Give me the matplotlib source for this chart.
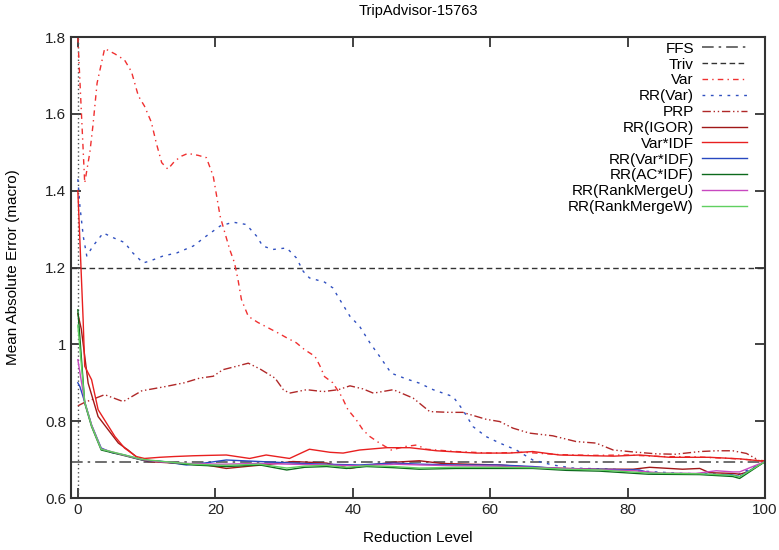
import matplotlib
matplotlib.use('Agg')
import matplotlib.pyplot as plt

plt.rcParams['font.family'] = ['Liberation Sans', 'DejaVu Sans']

ffs_level = 0.695
triv_level = 1.2

var_x = [0, 1.0, 1.75, 2.2, 2.8, 3.9, 5.4, 6.8, 7.8, 8.8, 9.7, 10.7, 11.4, 12.2, 13.1, 14.1, 15.1, 16.0,
         17.5, 18.7, 19.7, 20.2, 20.7, 21.4, 22.1, 22.8, 23.3, 23.8, 24.8, 26.2, 27.7, 29.1, 30.4, 31.8,
         33.0, 34.5, 35.2, 35.9, 37.1, 38.4, 39.3, 40.5, 41.5, 42.5, 43.9, 45.6, 47.6, 49.3, 50.7, 55, 60,
         65, 70, 75, 80, 85, 90, 95, 100]
var_y = [1.80, 1.42, 1.50, 1.57, 1.68, 1.77, 1.756, 1.74, 1.71, 1.647, 1.62, 1.578, 1.525, 1.473, 1.456,
         1.477, 1.49, 1.497, 1.492, 1.486, 1.438, 1.386, 1.334, 1.29, 1.247, 1.212, 1.169, 1.117, 1.073,
         1.057, 1.043, 1.03, 1.017, 1.004, 0.986, 0.969, 0.945, 0.916, 0.90, 0.864, 0.83, 0.804, 0.777,
         0.76, 0.743, 0.725, 0.734, 0.738, 0.727, 0.721, 0.717, 0.719, 0.713, 0.711, 0.712, 0.708, 0.707,
         0.703, 0.697]

rrvar_x = [0, 0.3, 0.8, 1.3, 2.2, 3.7, 5.1, 6.8, 8.0, 9.5, 10.5, 12.4, 14.4, 16.8, 18.7, 20.7, 22.6, 24.5,
           26.0, 26.9, 28.4, 30.4, 31.8, 32.8, 33.7, 35.9, 37.1, 38.1, 39.6, 41.0, 42.5, 43.9, 45.6, 47.8,
           49.7, 51.7, 54.6, 56.0, 57.5, 59.4, 61.4, 63.8, 66.2, 69.1, 72, 76, 80, 84, 88, 92, 96, 100]
rrvar_y = [1.43, 1.36, 1.28, 1.23, 1.256, 1.29, 1.278, 1.265, 1.238, 1.212, 1.217, 1.23, 1.238, 1.256,
           1.282, 1.308, 1.318, 1.312, 1.282, 1.256, 1.247, 1.251, 1.225, 1.19, 1.173, 1.162, 1.147, 1.117,
           1.073, 1.047, 1.004, 0.969, 0.925, 0.91, 0.899, 0.882, 0.864, 0.83, 0.786, 0.76, 0.743, 0.725,
           0.699, 0.686, 0.678, 0.676, 0.673, 0.668, 0.664, 0.663, 0.66, 0.695]

prp_x = [0, 1.0, 3.9, 6.6, 9.3, 12.7, 15.5, 17.7, 19.7, 21.1, 23.1, 24.8, 26.5, 28.7, 29.9, 30.8, 33.3,
         35.7, 37.9, 39.6, 41.5, 43.0, 45.9, 48.8, 51.2, 54.1, 56.0, 59.4, 61.4, 63.3, 65.7, 69.1, 72.5,
         75.4, 77.9, 80.8, 84.2, 87, 90.5, 93, 95.3, 97.3, 99.2, 100]
prp_y = [0.84, 0.849, 0.869, 0.851, 0.879, 0.89, 0.90, 0.912, 0.917, 0.934, 0.943, 0.951, 0.936, 0.912,
         0.882, 0.873, 0.882, 0.877, 0.882, 0.892, 0.884, 0.873, 0.882, 0.86, 0.825, 0.823, 0.823, 0.805,
         0.799, 0.782, 0.769, 0.762, 0.747, 0.743, 0.725, 0.72, 0.715, 0.714, 0.721, 0.723, 0.723, 0.716,
         0.697, 0.695]

igor_x = [0, 0.5, 1.5, 2.95, 5.9, 7.3, 8.8, 10.2, 13, 16.8, 19, 21.6, 25, 28, 31.3, 36.2, 39.6, 42, 45.9,
          49.7, 53, 57, 61.4, 66.2, 71.1, 75.9, 80.8, 83.2, 88, 90.5, 91.9, 95.3, 96.3, 97.5, 100]
igor_y = [1.08, 1.04, 0.899, 0.812, 0.743, 0.725, 0.703, 0.695, 0.692, 0.688, 0.685, 0.677, 0.683, 0.688,
          0.695, 0.691, 0.677, 0.685, 0.693, 0.697, 0.69, 0.688, 0.686, 0.68, 0.677, 0.675, 0.675, 0.68,
          0.675, 0.677, 0.666, 0.664, 0.662, 0.668, 0.695]

varidf_x = [0, 0.77, 1.0, 2.0, 2.95, 5.4, 6.8, 8.5, 9.7, 11.9, 14, 16.8, 19, 21.6, 25, 27.4, 30.8, 33.7,
            36.7, 38.6, 41, 44.9, 48.3, 52.2, 55, 58, 62.8, 66.2, 70.1, 75, 78, 81.7, 86.1, 91.9, 96.3,
            99.2, 100]
varidf_y = [1.40, 1.064, 0.943, 0.908, 0.83, 0.76, 0.73, 0.708, 0.703, 0.706, 0.708, 0.71, 0.711, 0.712,
            0.703, 0.712, 0.703, 0.727, 0.719, 0.717, 0.725, 0.731, 0.731, 0.723, 0.72, 0.717, 0.717, 0.721,
            0.712, 0.71, 0.709, 0.712, 0.706, 0.706, 0.702, 0.697, 0.695]

rrvaridf_x = [0, 0.3, 1, 2, 3.4, 5, 6.8, 8.5, 10, 12, 15.8, 18, 21.6, 24, 26.5, 31.3, 36, 41, 45.9, 50,
              55, 61.4, 66.2, 71.1, 75.9, 81.7, 83.7, 90.5, 95.3, 96.3, 100]
rrvaridf_y = [0.90, 0.89, 0.85, 0.79, 0.73, 0.718, 0.712, 0.703, 0.697, 0.696, 0.686, 0.69, 0.699, 0.697,
              0.695, 0.691, 0.688, 0.686, 0.691, 0.688, 0.686, 0.686, 0.682, 0.675, 0.675, 0.673, 0.663,
              0.662, 0.66, 0.656, 0.695]

acidf_x = [0, 1, 2, 3.4, 6.4, 9.3, 11.9, 16.8, 21.6, 26.5, 30.4, 33, 36.2, 39.1, 42, 45.9, 49.7, 55,
           61.4, 66.2, 71.1, 75.9, 83, 90.5, 95.3, 96.3, 100]
acidf_y = [1.09, 0.847, 0.786, 0.725, 0.712, 0.699, 0.695, 0.686, 0.682, 0.686, 0.673, 0.68, 0.682, 0.677,
           0.682, 0.679, 0.675, 0.677, 0.677, 0.677, 0.672, 0.67, 0.662, 0.661, 0.656, 0.651, 0.695]

rmu_x = [0, 1, 2, 3.4, 6.4, 9.3, 12, 16, 21, 26, 31, 36, 41, 46, 50, 55, 61, 66, 71, 76, 81, 85, 90,
         92.9, 95.3, 96.3, 100]
rmu_y = [0.96, 0.85, 0.79, 0.728, 0.713, 0.7, 0.694, 0.69, 0.688, 0.69, 0.688, 0.686, 0.684, 0.688, 0.686,
         0.684, 0.683, 0.68, 0.677, 0.674, 0.671, 0.665, 0.664, 0.671, 0.668, 0.668, 0.695]

rmw_x = acidf_x
rmw_y = [1.05, 0.85, 0.788, 0.727, 0.714, 0.701, 0.696, 0.688, 0.685, 0.688, 0.678, 0.683, 0.685, 0.68,
         0.684, 0.682, 0.678, 0.68, 0.68, 0.679, 0.675, 0.673, 0.665, 0.663, 0.659, 0.655, 0.695]

fig = plt.figure(figsize=(7.79, 5.5), dpi=100)
ax = fig.add_axes([0.0911, 0.0945, 0.891, 0.8382])

ax.axvline(0, color='#555555', lw=1.0, ls=(0, (1, 2)))
ax.axhline(ffs_level, color='#555555', lw=1.2, ls=(0, (7, 3, 1.5, 3)), label='FFS')
ax.axhline(triv_level, color='#333333', lw=1.0, ls=(0, (4, 2.5)), label='Triv')
ax.plot(var_x, var_y, color='#f03030', lw=1.0, ls=(0, (4, 3, 1, 3)), label='Var')
ax.plot(rrvar_x, rrvar_y, color='#3050c0', lw=1.0, ls=(0, (2, 4)), label='RR(Var)')
ax.plot(prp_x, prp_y, color='#b02828', lw=1.0, ls=(0, (6, 2, 1, 2, 1, 2)), label='PRP')
ax.plot(igor_x, igor_y, color='#a01818', lw=1.0, label='RR(IGOR)')
ax.plot(varidf_x, varidf_y, color='#e82020', lw=1.0, label='Var*IDF')
ax.plot(rrvaridf_x, rrvaridf_y, color='#2848c0', lw=1.0, label='RR(Var*IDF)')
ax.plot(acidf_x, acidf_y, color='#0c6a1c', lw=1.0, label='RR(AC*IDF)')
ax.plot(rmu_x, rmu_y, color='#c848c0', lw=1.0, label='RR(RankMergeU)')
ax.plot(rmw_x, rmw_y, color='#60d060', lw=1.0, label='RR(RankMergeW)')

ax.set_xlim(-1, 100)
ax.set_ylim(0.6, 1.8)
ax.set_xticks([0, 20, 40, 60, 80, 100])
ax.set_yticks([0.6, 0.8, 1.0, 1.2, 1.4, 1.6, 1.8])
ax.set_yticklabels(['0.6', '0.8', '1', '1.2', '1.4', '1.6', '1.8'])
ax.tick_params(direction='in', length=7, width=1.2, top=True, right=True, labelsize=11, colors='#222222')
for s in ax.spines.values():
    s.set_color('#333333')
    s.set_linewidth(1.5)

ax.set_title('TripAdvisor-15763', fontsize=10.5, pad=16)
ax.set_xlabel('Reduction Level', fontsize=11, labelpad=10)
ax.set_ylabel('Mean Absolute Error (macro)', fontsize=11, labelpad=18)

ax.legend(loc='upper right', bbox_to_anchor=(0.99, 1.013), frameon=False, markerfirst=False, fontsize=11,
          handlelength=3.0, labelspacing=0.12, handletextpad=0.5, borderaxespad=0.3)

fig.savefig('out.png', dpi=100)
